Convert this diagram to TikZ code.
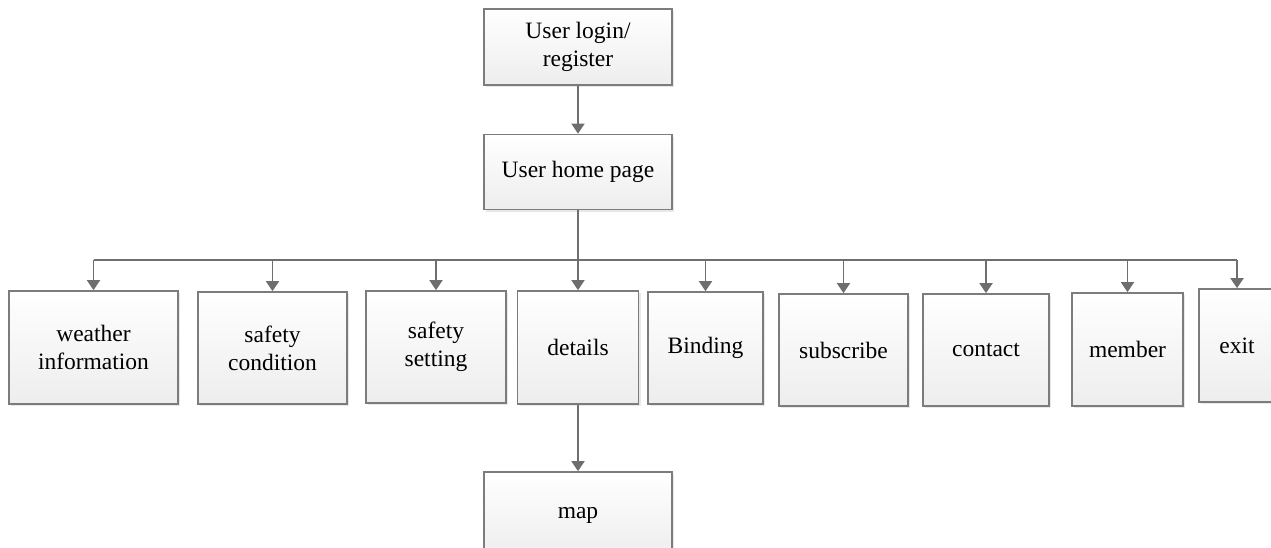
\documentclass[tikz,border=0pt]{standalone}
\usepackage{fontspec}
\setmainfont{Liberation Serif}
\usepackage{tikz}
\usetikzlibrary{arrows.meta,shadows}

\definecolor{edgegray}{HTML}{6E6E6E}
\definecolor{boxgray}{HTML}{7C7C7C}

\begin{document}
\begin{tikzpicture}[x=1pt,y=1pt,
    box/.style={draw=boxgray,line width=1.7pt,top color=white,bottom color=gray!14,
        drop shadow={shadow xshift=2pt,shadow yshift=-2pt,opacity=.18},
        align=center,inner sep=0pt,font=\fontsize{23.5}{28}\selectfont},
    link/.style={draw=edgegray,line width=1.8pt},
    arr/.style={link,-{Triangle[length=10pt,width=13pt]}}]
    \useasboundingbox (0,0) rectangle (1271,-547);

    \node[box,minimum width=188,minimum height=76] (login) at (578,-47) {User login/\\register};
    \node[box,minimum width=188,minimum height=75] (home) at (578,-172) {User home page};

    \node[box,minimum width=169,minimum height=113] (weather) at (93.5,-347.5) {weather\\information};
    \node[box,minimum width=149,minimum height=112] (condition) at (272.5,-348) {safety\\condition};
    \node[box,minimum width=140,minimum height=112] (setting) at (436,-347) {safety\\setting};
    \node[box,minimum width=121,minimum height=113] (details) at (578,-347.5) {details};
    \node[box,minimum width=115,minimum height=112] (binding) at (705.5,-348) {Binding};
    \node[box,minimum width=129,minimum height=112] (subscribe) at (843.5,-350) {subscribe};
    \node[box,minimum width=126,minimum height=112] (contact) at (986,-350) {contact};
    \node[box,minimum width=111,minimum height=113] (member) at (1127.5,-349.5) {member};
    \node[box,minimum width=76,minimum height=113] (exit) at (1237,-345.5) {exit};

    \node[box,minimum width=188,minimum height=86] (map) at (578,-515) {map};

    \path[arr] (login) -- (home);

    % branch line under the home page
    \coordinate (bus) at (578,-260);
    \path[link] (home) -- (bus);
    \path[link] (bus -| weather.north) -- (bus -| exit.north);
    \foreach \n in {weather,condition,setting,details,binding,subscribe,contact,member,exit}
        \path[arr] (bus -| \n.north) -- (\n);

    \path[arr] (details) -- (map);
\end{tikzpicture}
\end{document}
